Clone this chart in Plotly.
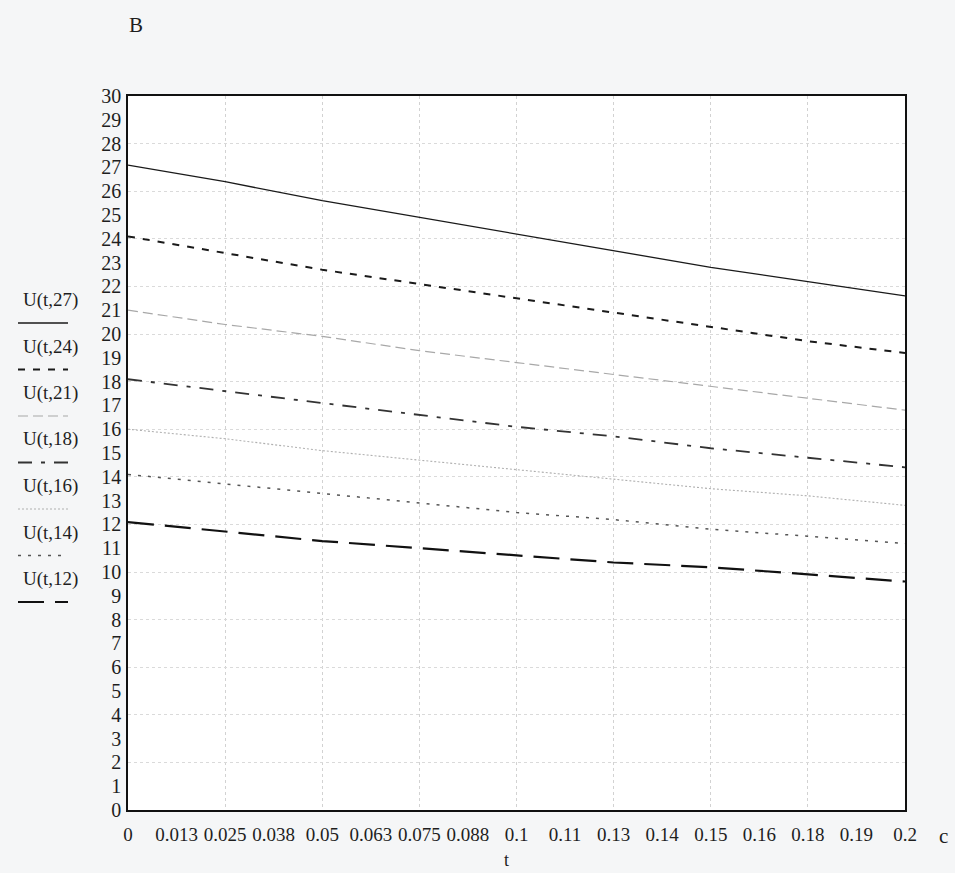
import plotly.graph_objects as go

# ---- data ----
t = [0.0, 0.025, 0.05, 0.075, 0.1, 0.125, 0.15, 0.175, 0.2]
U27 = [27.1, 26.4, 25.6, 24.9, 24.2, 23.5, 22.8, 22.2, 21.6]
U24 = [24.1, 23.4, 22.7, 22.1, 21.5, 20.9, 20.3, 19.7, 19.2]
U21 = [21.0, 20.4, 19.9, 19.3, 18.8, 18.3, 17.8, 17.3, 16.8]
U18 = [18.1, 17.6, 17.1, 16.6, 16.1, 15.7, 15.2, 14.8, 14.4]
U16 = [16.0, 15.6, 15.1, 14.7, 14.3, 13.9, 13.5, 13.2, 12.8]
U14 = [14.1, 13.7, 13.3, 12.9, 12.5, 12.2, 11.8, 11.5, 11.2]
U12 = [12.1, 11.7, 11.3, 11.0, 10.7, 10.4, 10.2, 9.9, 9.6]

series_names = ["U(t, 27)", "U(t, 24)", "U(t, 21)", "U(t, 18)", "U(t, 16)", "U(t, 14)", "U(t, 12)"]
series_values = [U27, U24, U21, U18, U16, U14, U12]

x_tick_vals = [0, 0.0125, 0.025, 0.0375, 0.05, 0.0625, 0.075, 0.0875, 0.1,
               0.1125, 0.125, 0.1375, 0.15, 0.1625, 0.175, 0.1875, 0.2]
x_tick_text = ["0", "0.013", "0.025", "0.038", "0.05", "0.063", "0.075", "0.088", "0.1",
               "0.11", "0.13", "0.14", "0.15", "0.16", "0.18", "0.19", "0.2"]
y_tick_vals = list(range(0, 31))

# ---- styles ----
styles = [
    dict(color="#1a1a1a", width=1.3, dash="solid"),
    dict(color="#1a1a1a", width=2.0, dash="7px,8px"),
    dict(color="#a8a8a8", width=1.2, dash="10px,5px"),
    dict(color="#333333", width=1.8, dash="14px,9px,4px,9px"),
    dict(color="#b0b0b0", width=1.1, dash="2px,2px"),
    dict(color="#555555", width=1.5, dash="3px,7px"),
    dict(color="#111111", width=2.2, dash="26px,11px"),
]

FONT = "Liberation Serif"

fig = go.Figure()
for name, vals, st in zip(series_names, series_values, styles):
    fig.add_trace(go.Scatter(x=t, y=vals, mode="lines", name=name, line=st,
                             showlegend=False))

# invisible trace for grid overlay axes
fig.add_trace(go.Scatter(x=[0, 0.2], y=[0, 30], xaxis="x2", yaxis="y2",
                         mode="markers", marker=dict(opacity=0), showlegend=False,
                         hoverinfo="skip"))

W, H = 955, 873
ml, mr, mt, mb = 128, 50, 96, 63

fig.update_layout(
    width=W, height=H,
    margin=dict(l=ml, r=mr, t=mt, b=mb),
    paper_bgcolor="#f5f6f7",
    plot_bgcolor="#ffffff",
    font=dict(family=FONT, color="#1e1e1e", size=19),
    xaxis=dict(range=[0, 0.2], tickvals=x_tick_vals, ticktext=x_tick_text,
               showgrid=False, zeroline=False, showline=True, linecolor="#111",
               linewidth=1.6, mirror=True, ticks="", ticklabelstandoff=6,
               tickfont=dict(size=19, family=FONT)),
    yaxis=dict(range=[0, 30], tickvals=y_tick_vals, showgrid=False, zeroline=False,
               showline=True, linecolor="#111", linewidth=1.6, mirror=True, ticks="",
               ticklabelstandoff=1, tickfont=dict(size=20, family=FONT)),
    xaxis2=dict(range=[0, 0.2], overlaying="x", dtick=0.025, tick0=0, showgrid=True,
                gridcolor="#d2d2d2", griddash="dot", gridwidth=1,
                showticklabels=False, zeroline=False, showline=False, ticks=""),
    yaxis2=dict(range=[0, 30], overlaying="y", dtick=2, tick0=0, showgrid=True,
                gridcolor="#dadada", griddash="dot", gridwidth=1,
                showticklabels=False, zeroline=False, showline=False, ticks=""),
)

# ---- legend drawn Mathcad-style: label with line sample beneath ----
pw, ph = W - ml - mr, H - mt - mb
def px_to_paper_x(px):
    return (px - ml) / pw
def px_to_paper_y(py):
    return (H - mb - py) / ph

legend_top = 300
legend_step = 46.5
for i, (name, st) in enumerate(zip(series_names, styles)):
    ty = legend_top + i * legend_step
    fig.add_annotation(x=px_to_paper_x(50), y=px_to_paper_y(ty), xref="paper", yref="paper",
                       text=name.replace(", ", ","), showarrow=False,
                       font=dict(size=19, family=FONT, color="#1e1e1e"),
                       xanchor="center", yanchor="middle")
    sy = ty + 23
    fig.add_shape(type="line", xref="paper", yref="paper",
                  x0=px_to_paper_x(18), x1=px_to_paper_x(68),
                  y0=px_to_paper_y(sy), y1=px_to_paper_y(sy),
                  line=dict(color=st["color"], width=st["width"], dash=st["dash"]))

# axis unit labels and title
fig.add_annotation(x=px_to_paper_x(136), y=px_to_paper_y(25), xref="paper", yref="paper",
                   text="В", showarrow=False, font=dict(size=21, family=FONT),
                   xanchor="center", yanchor="middle")
fig.add_annotation(x=px_to_paper_x(943), y=px_to_paper_y(836), xref="paper", yref="paper",
                   text="с", showarrow=False, font=dict(size=21, family=FONT),
                   xanchor="center", yanchor="middle")
fig.add_annotation(x=px_to_paper_x(506), y=px_to_paper_y(860), xref="paper", yref="paper",
                   text="t", showarrow=False, font=dict(size=18, family=FONT),
                   xanchor="center", yanchor="middle")

fig.write_html("out.html", config={"displayModeBar": False})

# remove default page margin so the figure sits at the window's top-left corner
with open("out.html", "r", encoding="utf-8") as f:
    html = f.read()
html = html.replace("<head>", "<head><style>html,body{margin:0;padding:0;overflow:hidden;}</style>", 1)
with open("out.html", "w", encoding="utf-8") as f:
    f.write(html)
